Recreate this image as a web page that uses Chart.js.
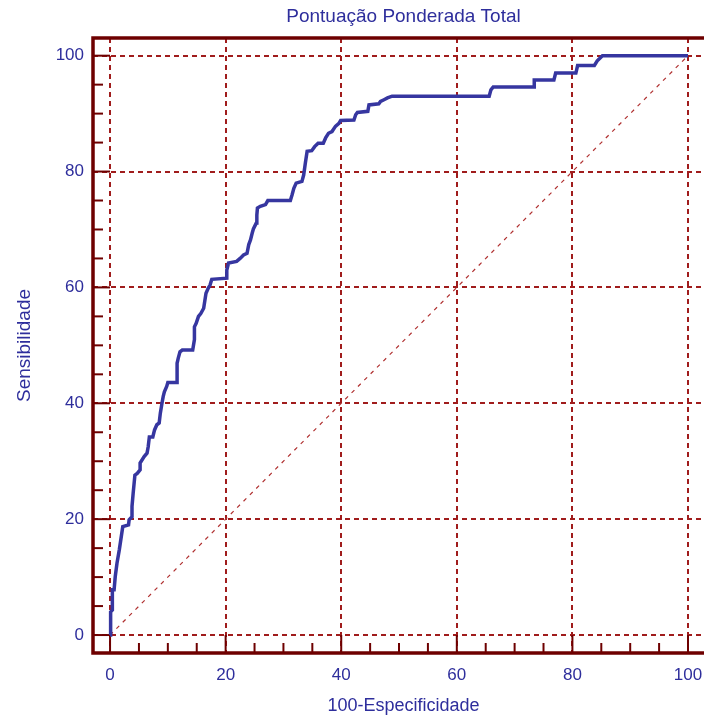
<!DOCTYPE html>
<html>
<head>
<meta charset="utf-8">
<script src="https://cdn.jsdelivr.net/npm/chart.js@4"></script>
<style>
  html, body { margin: 0; padding: 0; overflow: hidden; background: #ffffff; }
</style>
</head>
<body>
<canvas id="roc-chart" width="720" height="719"></canvas>
<script>
// ROC curve values (100-Especificidade, Sensibilidade)
const fprValues = [0, 0.1, 0.4, 0.4, 0.7, 0.9, 1.2, 1.6, 2.2, 3.2, 3.3, 3.8, 3.8, 4.0, 4.3, 4.7, 5.2, 5.2, 5.9, 6.4,
    6.6, 6.8, 7.4, 7.7, 8.1, 8.5, 8.7, 9.0, 9.2, 9.4, 9.8, 10.0, 11.6, 11.6, 11.8, 12.1, 12.5, 14.3, 14.6, 14.6,
    14.9, 15.3, 15.7, 16.2, 16.6, 17.0, 17.3, 17.6, 20.2, 20.2, 20.5, 21.9, 22.5, 23.1, 23.7, 24.0, 24.3, 24.6, 24.8, 25.3,
    25.4, 25.5, 26.0, 26.9, 27.3, 31.2, 31.5, 31.8, 32.2, 33.2, 33.5, 33.8, 34.1, 34.9, 35.4, 36.0, 36.9, 37.3, 37.8, 38.4,
    39.0, 39.6, 39.9, 42.2, 42.5, 42.8, 44.6, 44.8, 46.5, 46.8, 47.4, 48.0, 48.8, 65.6, 65.9, 66.3, 73.4, 73.4, 76.8, 77.1,
    80.6, 80.9, 83.8, 84.3, 85.2, 100];
const sensValues = [0, 4.0, 4.3, 7.8, 7.8, 10.1, 12.4, 14.7, 18.7, 19.0, 19.9, 20.4, 22.2, 24.5, 27.6, 27.9, 28.5, 29.7, 30.8, 31.4,
    32.5, 34.2, 34.2, 35.4, 36.3, 36.6, 38.3, 40.1, 41.2, 42.0, 42.9, 43.6, 43.6, 46.9, 47.8, 48.9, 49.2, 49.2, 51.0, 53.2,
    53.8, 55.0, 55.5, 56.4, 59.0, 59.9, 60.4, 61.4, 61.6, 63.0, 64.2, 64.5, 65.0, 65.6, 65.9, 67.4, 68.2, 69.4, 70.1, 71.1,
    72.5, 73.7, 74.0, 74.3, 75.0, 75.0, 76.0, 77.1, 78.0, 78.3, 79.4, 81.5, 83.5, 83.6, 84.3, 84.9, 84.9, 85.8, 86.6, 86.9,
    87.8, 88.3, 88.8, 88.9, 89.8, 90.2, 90.4, 91.5, 91.7, 92.1, 92.4, 92.7, 93.0, 93.0, 94.1, 94.6, 94.6, 95.8, 95.8, 97.0,
    97.0, 98.3, 98.3, 99.1, 100, 100];

// reference diagonal
const diagonalX = [0, 100];
const diagonalY = [0, 100];

// axis ticks
const tickValues = [0, 20, 40, 60, 80, 100];
const minorTickValues = [5, 10, 15, 25, 30, 35, 45, 50, 55, 65, 70, 75, 85, 90, 95];

const textColor = '#2e2e9c';
const frameColor = '#6e0000';
const gridColor = '#a01c1c';
const fontFamily = "'Liberation Sans', Arial, sans-serif";

// Frame around the plot and the inward tick marks
const framePlugin = {
    id: 'frame',
    beforeDatasetsDraw(chart) {
        const ctx = chart.ctx;
        const area = chart.chartArea;
        const xScale = chart.scales.x;
        const yScale = chart.scales.y;
        ctx.save();
        ctx.strokeStyle = frameColor;
        ctx.lineWidth = 2;
        // major ticks reach the zero grid line, minor ones are short
        tickValues.forEach(v => {
            const px = xScale.getPixelForValue(v);
            ctx.beginPath(); ctx.moveTo(px, area.bottom); ctx.lineTo(px, yScale.getPixelForValue(0)); ctx.stroke();
            const py = yScale.getPixelForValue(v);
            ctx.beginPath(); ctx.moveTo(area.left, py); ctx.lineTo(xScale.getPixelForValue(0), py); ctx.stroke();
        });
        minorTickValues.forEach(v => {
            const px = xScale.getPixelForValue(v);
            ctx.beginPath(); ctx.moveTo(px, area.bottom); ctx.lineTo(px, area.bottom - 10); ctx.stroke();
            const py = yScale.getPixelForValue(v);
            ctx.beginPath(); ctx.moveTo(area.left, py); ctx.lineTo(area.left + 10, py); ctx.stroke();
        });
        ctx.lineWidth = 3.5;
        ctx.strokeRect(area.left, area.top, area.right - area.left, area.bottom - area.top);
        ctx.restore();
    }
};

const ctx = document.getElementById('roc-chart').getContext('2d');
new Chart(ctx, {
    type: 'scatter',
    data: {
        datasets: [
            {
                data: fprValues.map((x, i) => ({ x: x, y: sensValues[i] })),
                showLine: true,
                borderColor: '#3636a0',
                borderWidth: 3.5,
                pointRadius: 0,
                tension: 0
            },
            {
                data: diagonalX.map((x, i) => ({ x: x, y: diagonalY[i] })),
                showLine: true,
                borderColor: '#b03030',
                borderWidth: 1.2,
                borderDash: [4, 5],
                pointRadius: 0
            }
        ]
    },
    options: {
        responsive: false,
        animation: false,
        devicePixelRatio: 1,
        layout: { padding: { left: 0, right: 6, top: 0, bottom: 0 } },
        plugins: {
            legend: { display: false },
            tooltip: { enabled: false },
            title: {
                display: true,
                fullSize: false,
                text: 'Pontuação Ponderada Total',
                color: textColor,
                font: { family: fontFamily, size: 19, weight: 'normal' },
                padding: { top: 5.6, bottom: 9.6 }
            }
        },
        scales: {
            x: {
                type: 'linear',
                min: -2.95,
                max: 104.5,
                afterBuildTicks: scale => { scale.ticks = tickValues.map(v => ({ value: v })); },
                afterFit: scale => { scale.height = 66; },
                grid: { color: gridColor, lineWidth: 2, drawTicks: false },
                border: { display: false, dash: [5, 4] },
                ticks: { color: textColor, padding: 12, maxRotation: 0, font: { family: fontFamily, size: 17 } },
                title: {
                    display: true,
                    text: '100-Especificidade',
                    color: textColor,
                    font: { family: fontFamily, size: 18 },
                    padding: { top: 0, bottom: 2 }
                }
            },
            y: {
                type: 'linear',
                min: -3.1,
                max: 103.05,
                afterBuildTicks: scale => { scale.ticks = tickValues.map(v => ({ value: v })); },
                afterFit: scale => { scale.width = 93; },
                grid: { color: gridColor, lineWidth: 2, drawTicks: false },
                border: { display: false, dash: [5, 4] },
                ticks: { color: textColor, padding: 9, font: { family: fontFamily, size: 17 } },
                title: {
                    display: true,
                    text: 'Sensibilidade',
                    color: textColor,
                    font: { family: fontFamily, size: 19 },
                    padding: { top: 13.6, bottom: 0 }
                }
            }
        }
    },
    plugins: [framePlugin]
});
</script>
</body>
</html>
